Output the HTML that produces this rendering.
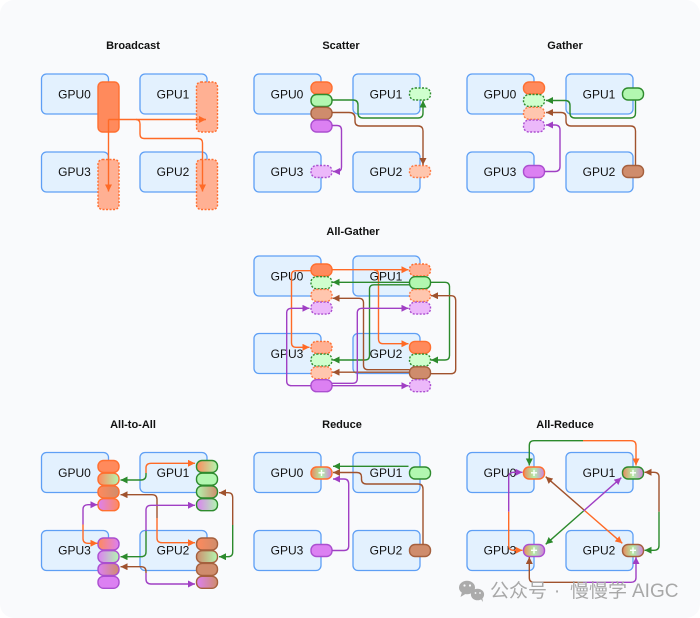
<!DOCTYPE html>
<html><head><meta charset="utf-8"><style>
html,body{margin:0;padding:0;background:#fff}
svg{display:block}
text{font-family:"Liberation Sans","Noto Sans CJK SC",sans-serif}
.t{font-size:11px;font-weight:bold;fill:#111;text-anchor:middle}
.g{font-size:12px;fill:#111;text-anchor:middle}
.b{fill:#e3f1fe;stroke:#5e9ff5;stroke-width:1.3}
.p{stroke-width:1.4}
.o{fill:#ff8a5c;stroke:#ff6f30}.n{fill:#b2f7b0;stroke:#2e8b2e}.w{fill:#cf8c6c;stroke:#a5603e}.v{fill:#dc80f2;stroke:#ab4fd0}
.od{fill:#ffb093;stroke:#ff6f30;stroke-dasharray:2 1.5}
.ol{fill:#ffc6ae;stroke:#ff7a42;stroke-dasharray:2 1.5}
.nd{fill:#cfffcd;stroke:#2e8b2e;stroke-dasharray:2 1.5}
.vd{fill:#ecb8fa;stroke:#ab4fd0;stroke-dasharray:2 1.5}
path{fill:none;stroke-width:1.4}
.ao{stroke:#ff6a26;marker-end:url(#mo)}.an{stroke:#2c8a2c;marker-end:url(#mn)}.aw{stroke:#a0522d;marker-end:url(#mw)}.av{stroke:#a03fc4;marker-end:url(#mv)}
.plus{font-size:12px;fill:#fff;text-anchor:middle;font-weight:bold}
</style></head><body>
<svg width="700" height="618" viewBox="0 0 700 618" xmlns="http://www.w3.org/2000/svg">
<defs>
<marker id="mo" markerUnits="userSpaceOnUse" markerWidth="8" markerHeight="8" refX="7" refY="3.5" orient="auto"><polygon points="0,0 7,3.5 0,7" fill="#ff6a26"/></marker>
<marker id="mn" markerUnits="userSpaceOnUse" markerWidth="8" markerHeight="8" refX="7" refY="3.5" orient="auto"><polygon points="0,0 7,3.5 0,7" fill="#2c8a2c"/></marker>
<marker id="mw" markerUnits="userSpaceOnUse" markerWidth="8" markerHeight="8" refX="7" refY="3.5" orient="auto"><polygon points="0,0 7,3.5 0,7" fill="#a0522d"/></marker>
<marker id="mv" markerUnits="userSpaceOnUse" markerWidth="8" markerHeight="8" refX="7" refY="3.5" orient="auto"><polygon points="0,0 7,3.5 0,7" fill="#a03fc4"/></marker>
<linearGradient id="gon"><stop offset="0" stop-color="#ff8a5c"/><stop offset="1" stop-color="#b2f7b0"/></linearGradient>
<linearGradient id="gow"><stop offset="0" stop-color="#ff8a5c"/><stop offset="1" stop-color="#cf8c6c"/></linearGradient>
<linearGradient id="gvo"><stop offset="0" stop-color="#dc80f2"/><stop offset="1" stop-color="#ff8a5c"/></linearGradient>
<linearGradient id="gnw"><stop offset="0" stop-color="#b2f7b0"/><stop offset="1" stop-color="#cf8c6c"/></linearGradient>
<linearGradient id="gwn"><stop offset="0" stop-color="#cf8c6c"/><stop offset="1" stop-color="#b2f7b0"/></linearGradient>
<linearGradient id="gvn"><stop offset="0" stop-color="#dc80f2"/><stop offset="1" stop-color="#b2f7b0"/></linearGradient>
<linearGradient id="gov"><stop offset="0" stop-color="#ff8a5c"/><stop offset="1" stop-color="#dc80f2"/></linearGradient>
<linearGradient id="gvw"><stop offset="0" stop-color="#dc80f2"/><stop offset="1" stop-color="#cf8c6c"/></linearGradient>
<linearGradient id="gsum"><stop offset="0" stop-color="#e8885e"/><stop offset=".5" stop-color="#b2f0a8"/><stop offset="1" stop-color="#cf80dc"/></linearGradient>
</defs>
<rect x="0" y="0" width="700" height="618" rx="14" fill="#f9fafc"/>

<!-- Broadcast -->
<text class="t" x="133" y="49">Broadcast</text>
<rect class="b" x="41.5" y="74" width="67" height="40" rx="5"/><rect class="b" x="140" y="74" width="67" height="40" rx="5"/><rect class="b" x="41.5" y="152" width="67" height="40" rx="5"/><rect class="b" x="140" y="152" width="67" height="40" rx="5"/>
<text class="g" x="74.5" y="98.5">GPU0</text><text class="g" x="173" y="98.5">GPU1</text><text class="g" x="74.5" y="176">GPU3</text><text class="g" x="173" y="176">GPU2</text>
<rect class="p o" x="98" y="82" width="21" height="50" rx="4.5"/>
<rect class="p od" x="196.5" y="82" width="21" height="50" rx="4.5"/>
<rect class="p od" x="98" y="159.5" width="21" height="50" rx="4.5"/>
<rect class="p od" x="196.5" y="159.5" width="21" height="50" rx="4.5"/>
<path class="ao" d="M108.5 119.5H206"/>
<path class="ao" d="M108.5 119.5V191.5"/>
<path class="ao" d="M136 119.5Q140 119.5 140 124V134Q140 138.5 144 138.5H198Q202.5 138.5 202.5 143V191.5"/>

<!-- Scatter -->
<text class="t" x="341" y="49">Scatter</text>
<rect class="b" x="254" y="74" width="67" height="40" rx="5"/><rect class="b" x="353" y="74" width="67" height="40" rx="5"/><rect class="b" x="254" y="152" width="67" height="40" rx="5"/><rect class="b" x="353" y="152" width="67" height="40" rx="5"/>
<text class="g" x="287" y="98.5">GPU0</text><text class="g" x="386" y="98.5">GPU1</text><text class="g" x="287" y="176">GPU3</text><text class="g" x="386" y="176">GPU2</text>
<rect class="p o" x="311" y="82" width="21" height="12" rx="5.5"/><rect class="p n" x="311" y="94.5" width="21" height="12" rx="5.5"/><rect class="p w" x="311" y="107.3" width="21" height="12" rx="5.5"/><rect class="p v" x="311" y="120" width="21" height="12" rx="5.5"/>
<rect class="p nd" x="409.5" y="88" width="21" height="12" rx="5.5"/><rect class="p ol" x="409.5" y="165.5" width="21" height="12" rx="5.5"/><rect class="p vd" x="311" y="165.5" width="21" height="12" rx="5.5"/>
<path class="an" d="M332 100H353Q358 100 358 105V113Q358 118 363 118H418Q423 118 423 113V100.5"/>
<path class="aw" d="M332 112.5H349Q355 112.5 355 118V121Q355 126 360 126H418Q423 126 423 131V165"/>
<path class="av" d="M332 125.5H337Q341.5 125.5 341.5 130V167Q341.5 171.5 337 171.5H333"/>

<!-- Gather -->
<text class="t" x="565" y="49">Gather</text>
<rect class="b" x="467" y="74" width="67" height="40" rx="5"/><rect class="b" x="566" y="74" width="67" height="40" rx="5"/><rect class="b" x="467" y="152" width="67" height="40" rx="5"/><rect class="b" x="566" y="152" width="67" height="40" rx="5"/>
<text class="g" x="500" y="98.5">GPU0</text><text class="g" x="599" y="98.5">GPU1</text><text class="g" x="500" y="176">GPU3</text><text class="g" x="599" y="176">GPU2</text>
<rect class="p o" x="523.5" y="82" width="21" height="12" rx="5.5"/><rect class="p nd" x="523.5" y="94.5" width="21" height="12" rx="5.5"/><rect class="p ol" x="523.5" y="107.3" width="21" height="12" rx="5.5"/><rect class="p vd" x="523.5" y="120" width="21" height="12" rx="5.5"/>
<rect class="p n" x="622.5" y="88" width="21" height="12" rx="5.5"/><rect class="p w" x="622.5" y="165.5" width="21" height="12" rx="5.5"/><rect class="p v" x="523.5" y="165.5" width="21" height="12" rx="5.5"/>
<path class="an" d="M635.5 100V113Q635.5 118 630.5 118H575Q570 118 570 113V105.5Q570 100.5 565 100.5H546"/>
<path class="aw" d="M635.5 165.5V131Q635.5 126 630.5 126H571Q566 126 566 121V117Q566 112.5 561 112.5H546"/>
<path class="av" d="M544.5 171.5H555Q560 171.5 560 166.5V130Q560 125 555 125H546"/>

<!-- All-Gather -->
<text class="t" x="353" y="235">All-Gather</text>
<rect class="b" x="254" y="256" width="67" height="40" rx="5"/><rect class="b" x="353" y="256" width="67" height="40" rx="5"/><rect class="b" x="254" y="333.5" width="67" height="40" rx="5"/><rect class="b" x="353" y="333.5" width="67" height="40" rx="5"/>
<text class="g" x="287" y="280.5">GPU0</text><text class="g" x="386" y="280.5">GPU1</text><text class="g" x="287" y="358">GPU3</text><text class="g" x="386" y="358">GPU2</text>
<rect class="p o" x="311" y="264" width="21" height="12" rx="5.5"/><rect class="p nd" x="311" y="276.7" width="21" height="12" rx="5.5"/><rect class="p ol" x="311" y="289.4" width="21" height="12" rx="5.5"/><rect class="p vd" x="311" y="302.1" width="21" height="12" rx="5.5"/>
<rect class="p od" x="409.5" y="264" width="21" height="12" rx="5.5"/><rect class="p n" x="409.5" y="276.7" width="21" height="12" rx="5.5"/><rect class="p ol" x="409.5" y="289.4" width="21" height="12" rx="5.5"/><rect class="p vd" x="409.5" y="302.1" width="21" height="12" rx="5.5"/>
<rect class="p od" x="311" y="341.4" width="21" height="12" rx="5.5"/><rect class="p nd" x="311" y="354.1" width="21" height="12" rx="5.5"/><rect class="p ol" x="311" y="366.8" width="21" height="12" rx="5.5"/><rect class="p v" x="311" y="379.7" width="21" height="12" rx="5.5"/>
<rect class="p o" x="409.5" y="341.4" width="21" height="12" rx="5.5"/><rect class="p nd" x="409.5" y="354.1" width="21" height="12" rx="5.5"/><rect class="p w" x="409.5" y="366.8" width="21" height="12" rx="5.5"/><rect class="p vd" x="409.5" y="379.7" width="21" height="12" rx="5.5"/>
<path class="ao" d="M332 269.7H408.5"/>
<path class="ao" d="M374 270Q378.5 270 378.5 274.5V339Q378.5 343.7 383 343.7H408.5"/>
<path class="ao" d="M311 270.7H296Q291.5 270.7 291.5 275.2V342.5Q291.5 347.3 296 347.3H309.5"/>
<path class="an" d="M409.5 282.3H332.5"/>
<path class="an" d="M430.5 282.3H445Q449.5 282.3 449.5 287V355.5Q449.5 360 445 360H431"/>
<path class="an" d="M409.5 284.8H374Q369.5 284.8 369.5 289V355.5Q369.5 360 365 360H332.5"/>
<path class="aw" d="M409.5 369.7H368Q363.5 369.7 363.5 365V303Q363.5 298.3 359 298.3H332.5"/>
<path class="aw" d="M409.5 372.2H332.5"/>
<path class="aw" d="M430.5 373.7H451Q455.7 373.7 455.7 369V300.5Q455.7 295.7 451 295.7H431"/>
<path class="av" d="M311 385.7H291.5Q286.7 385.7 286.7 381V313Q286.7 308.3 291.5 308.3H309.5"/>
<path class="av" d="M332 383.3H352.5Q357.3 383.3 357.3 378.5V313Q357.3 308.3 362 308.3H408.5"/>
<path class="av" d="M332 385.7H408.5"/>

<!-- All-to-All -->
<text class="t" x="133" y="428">All-to-All</text>
<rect class="b" x="41.5" y="452.5" width="67" height="40" rx="5"/><rect class="b" x="140" y="452.5" width="67" height="40" rx="5"/><rect class="b" x="41.5" y="530.5" width="67" height="40" rx="5"/><rect class="b" x="140" y="530.5" width="67" height="40" rx="5"/>
<text class="g" x="74.5" y="477">GPU0</text><text class="g" x="173" y="477">GPU1</text><text class="g" x="74.5" y="554.5">GPU3</text><text class="g" x="173" y="554.5">GPU2</text>
<rect class="p o" x="98" y="460.5" width="21" height="12" rx="5.5"/>
<rect class="p" fill="url(#gon)" stroke="#ff6f30" x="98" y="473.2" width="21" height="12" rx="5.5"/>
<rect class="p" fill="url(#gow)" stroke="#ff6f30" x="98" y="485.9" width="21" height="12" rx="5.5"/>
<rect class="p" fill="url(#gvo)" stroke="#ff6f30" x="98" y="498.7" width="21" height="12" rx="5.5"/>
<rect class="p" fill="url(#gon)" stroke="#2e8b2e" x="196.5" y="460.5" width="21" height="12" rx="5.5"/>
<rect class="p n" x="196.5" y="473.2" width="21" height="12" rx="5.5"/>
<rect class="p" fill="url(#gnw)" stroke="#2e8b2e" x="196.5" y="485.9" width="21" height="12" rx="5.5"/>
<rect class="p" fill="url(#gvn)" stroke="#2e8b2e" x="196.5" y="498.7" width="21" height="12" rx="5.5"/>
<rect class="p" fill="url(#gov)" stroke="#ab4fd0" x="98" y="538" width="21" height="12" rx="5.5"/>
<rect class="p" fill="url(#gvn)" stroke="#ab4fd0" x="98" y="550.7" width="21" height="12" rx="5.5"/>
<rect class="p" fill="url(#gvw)" stroke="#ab4fd0" x="98" y="563.4" width="21" height="12" rx="5.5"/>
<rect class="p v" x="98" y="576.3" width="21" height="12" rx="5.5"/>
<rect class="p" fill="url(#gow)" stroke="#a5603e" x="196.5" y="538" width="21" height="12" rx="5.5"/>
<rect class="p" fill="url(#gwn)" stroke="#a5603e" x="196.5" y="550.7" width="21" height="12" rx="5.5"/>
<rect class="p w" x="196.5" y="563.4" width="21" height="12" rx="5.5"/>
<rect class="p" fill="url(#gvw)" stroke="#a5603e" x="196.5" y="576.3" width="21" height="12" rx="5.5"/>
<path class="ao" d="M146 473V468Q146 463.3 151 463.3H195"/>
<path class="an" d="M146 473V475Q146 480 141 480H120.5"/>
<path class="aw" d="M157 518V499.5Q157 494.7 152 494.7H120.5"/>
<path class="ao" d="M157 518V538Q157 542.7 162 542.7H195"/>
<path class="av" d="M83 524.5V509.5Q83 504.7 88 504.7H97.5"/>
<path class="ao" d="M83 524.5V538.5Q83 543.3 88 543.3H97.5"/>
<path class="av" d="M146 531V510Q146 505.3 151 505.3H195"/>
<path class="an" d="M146 531V552Q146 556.7 141 556.7H120.5"/>
<path class="aw" d="M146 573V571.5Q146 566.7 141 566.7H120.5"/>
<path class="av" d="M146 573V579Q146 584 151 584H195"/>
<path class="aw" d="M232.7 525V497.5Q232.7 492.7 228 492.7H219"/>
<path class="an" d="M232.7 525V552Q232.7 556.7 228 556.7H219"/>

<!-- Reduce -->
<text class="t" x="342" y="428">Reduce</text>
<rect class="b" x="254" y="452.5" width="67" height="40" rx="5"/><rect class="b" x="353" y="452.5" width="67" height="40" rx="5"/><rect class="b" x="254" y="530.5" width="67" height="40" rx="5"/><rect class="b" x="353" y="530.5" width="67" height="40" rx="5"/>
<text class="g" x="287" y="477">GPU0</text><text class="g" x="386" y="477">GPU1</text><text class="g" x="287" y="554.5">GPU3</text><text class="g" x="386" y="554.5">GPU2</text>
<rect class="p" fill="url(#gsum)" stroke="#ff6f30" x="311" y="467" width="21" height="12" rx="5.5"/><text class="plus" x="321.5" y="477">+</text>
<rect class="p n" x="409.5" y="467" width="21" height="12" rx="5.5"/><rect class="p w" x="409.5" y="544.5" width="21" height="12" rx="5.5"/><rect class="p v" x="311" y="544.5" width="21" height="12" rx="5.5"/>
<path class="an" d="M408.5 466.3H333"/>
<path class="aw" d="M423 544.5V489Q423 484 418 484H366.5Q361.5 484 361.5 479V477Q361.5 472.5 357 472.5H333"/>
<path class="av" d="M332 550.5H344Q348.7 550.5 348.7 546V484Q348.7 479 344 479H333"/>

<!-- All-Reduce -->
<text class="t" x="565" y="428">All-Reduce</text>
<rect class="b" x="467" y="452.5" width="67" height="40" rx="5"/><rect class="b" x="566" y="452.5" width="67" height="40" rx="5"/><rect class="b" x="467" y="530.5" width="67" height="40" rx="5"/><rect class="b" x="566" y="530.5" width="67" height="40" rx="5"/>
<text class="g" x="500" y="477">GPU0</text><text class="g" x="599" y="477">GPU1</text><text class="g" x="500" y="554.5">GPU3</text><text class="g" x="599" y="554.5">GPU2</text>
<rect class="p" fill="url(#gsum)" stroke="#ff6f30" x="523.5" y="467" width="21" height="12" rx="5.5"/><text class="plus" x="534" y="477">+</text>
<rect class="p" fill="url(#gsum)" stroke="#2e8b2e" x="622.5" y="467" width="21" height="12" rx="5.5"/><text class="plus" x="633" y="477">+</text>
<rect class="p" fill="url(#gsum)" stroke="#ab4fd0" x="523.5" y="544.5" width="21" height="12" rx="5.5"/><text class="plus" x="534" y="554.5">+</text>
<rect class="p" fill="url(#gsum)" stroke="#a5603e" x="622.5" y="544.5" width="21" height="12" rx="5.5"/><text class="plus" x="633" y="554.5">+</text>
<path class="an" d="M583 440.7H534Q529.3 440.7 529.3 445.5V465.5"/>
<path class="ao" d="M583 440.7H631Q636 440.7 636 445.5V465.5"/>
<path class="av" d="M508.7 511.7V477Q508.7 472.3 513.5 472.3H522.5"/>
<path class="ao" d="M508.7 511.7V545.5Q508.7 550.3 513.5 550.3H522.5"/>
<path class="aw" d="M659 511.7V477Q659 472.3 654 472.3H644.5"/>
<path class="an" d="M659 511.7V545.5Q659 550.3 654 550.3H644.5"/>
<path class="aw" d="M583 582.3H534Q529.3 582.3 529.3 577.5V557"/>
<path class="av" d="M583 582.3H631Q636 582.3 636 577.5V557"/>
<path class="aw" d="M584 510L545.7 476.7"/>
<path class="ao" d="M584 510L622.3 543.3"/>
<path class="av" d="M583.5 511L621.3 477.7"/>
<path class="an" d="M583.5 511L545.7 544.3"/>

<!-- Watermark -->
<g fill="#ababab">
<ellipse cx="467" cy="587.5" rx="8" ry="6.8"/><polygon points="462,592 460.5,597 467,593"/>
<ellipse cx="477.5" cy="594.5" rx="6.6" ry="5.8"/><polygon points="480,598 483,602 482,596"/>
</g>
<g fill="#f9fafc"><circle cx="464.5" cy="585.5" r="1.1"/><circle cx="470" cy="585.5" r="1.1"/><circle cx="475.5" cy="593" r=".9"/><circle cx="480" cy="593" r=".9"/></g>
<g font-size="19" fill="#a8a8a8">
<text x="490" y="597">公众号</text>
<text x="557" y="597" text-anchor="middle">·</text>
<text x="570" y="597">慢慢学</text>
<text x="632" y="597">AIGC</text>
</g>
</svg>
</body></html>
